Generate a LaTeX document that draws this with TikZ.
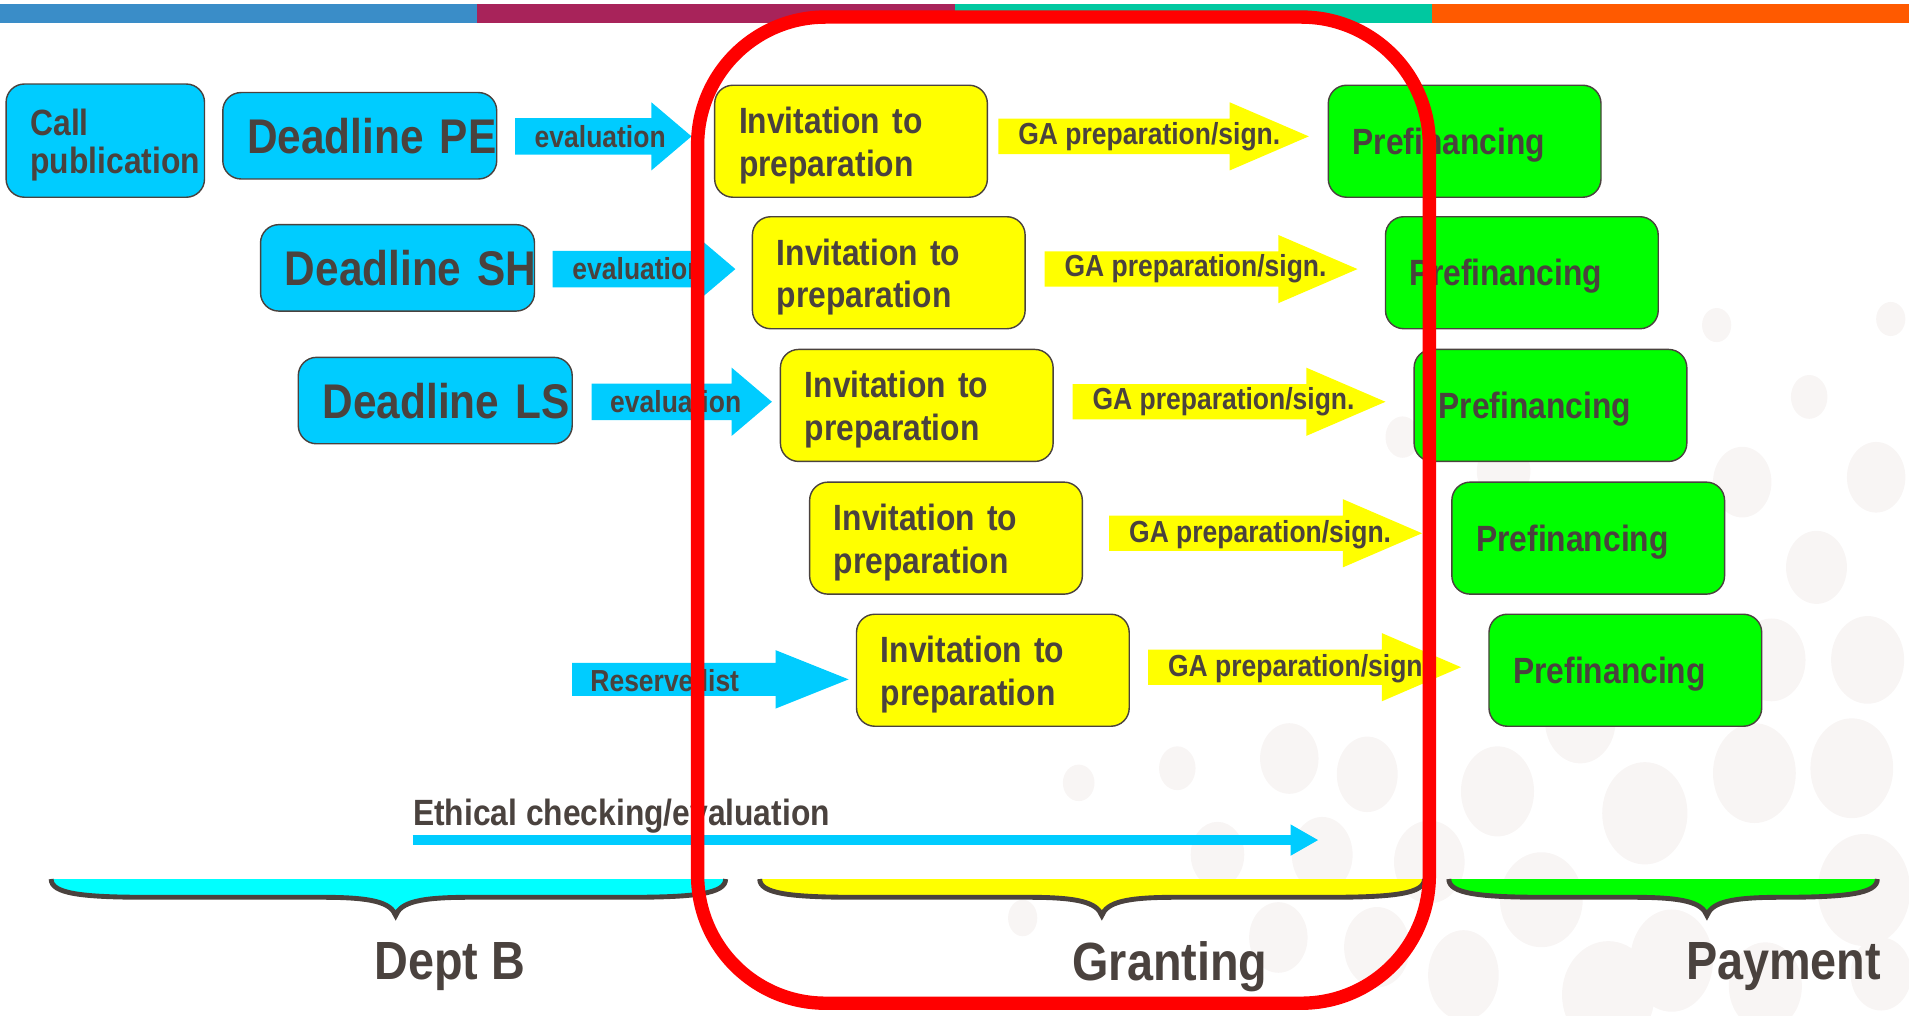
\documentclass[tikz,border=0pt]{standalone}
\usepackage{fontspec}
\setmainfont{Liberation Sans}[FakeStretch=0.87]
\usetikzlibrary{arrows.meta}
\hyphenpenalty=10000
\definecolor{txt}{HTML}{4A423E}
\definecolor{skyb}{HTML}{00CCFF}
\definecolor{aqua}{HTML}{00FFFF}
\definecolor{yel}{HTML}{FFFF00}
\definecolor{grn}{HTML}{00FF00}
\definecolor{dot}{HTML}{F8F5F4}
\definecolor{barA}{HTML}{3A8DC8}
\definecolor{barB}{HTML}{A8235A}
\definecolor{barC}{HTML}{00C8A0}
\definecolor{barD}{HTML}{FF5A00}
\newcommand{\toppad}{\rule{0pt}{17.2pt}}
% fat arrow: colour, tail x, tip x, y, shaft half, head half, head length
\newcommand{\fatarrow}[7]{\fill[#1] (#2,#4-#5) -- (#3-#7,#4-#5) -- (#3-#7,#4-#6) -- (#3,#4)
  -- (#3-#7,#4+#6) -- (#3-#7,#4+#5) -- (#2,#4+#5) -- cycle;}
% brace: colour, left x, tip x, right x
\newcommand{\phasebrace}[4]{%
  \fill[#1] (#2,722) .. controls (#2,734) and (#2+25,737) .. (#2+80,737)
    -- (#3-60,737) .. controls (#3-20,737) and (#3-4,741) .. (#3,752)
    .. controls (#3+4,741) and (#3+20,737) .. (#3+60,737)
    -- (#4-80,737) .. controls (#4-25,737) and (#4,734) .. (#4,722) -- cycle;
  \draw[txt, line width=2.4pt] (#2,722) .. controls (#2,734) and (#2+25,737) .. (#2+80,737)
    -- (#3-60,737) .. controls (#3-20,737) and (#3-4,741) .. (#3,752)
    .. controls (#3+4,741) and (#3+20,737) .. (#3+60,737)
    -- (#4-80,737) .. controls (#4-25,737) and (#4,734) .. (#4,722);}

\begin{document}
\begin{tikzpicture}[x=0.6pt, y=-0.6pt,
  box/.style = {draw=txt, line width=0.7pt, rounded corners=9pt, text=txt, align=left,
    inner xsep=12pt, inner ysep=0pt, font=\fontsize{18}{21}\selectfont\bfseries},
  inv/.style = {box, fill=yel, text width=110.4pt, minimum height=55.2pt},
  pre/.style = {box, fill=grn, text width=110.4pt, minimum height=55.2pt, text depth=0pt},
  dl/.style = {box, fill=skyb, text width=111pt, minimum height=42.6pt, text depth=0pt,
    font=\fontsize{24}{28}\selectfont\bfseries},
  lbl/.style = {text=txt, inner sep=0pt, font=\fontsize{15}{18}\selectfont\bfseries},
  phase/.style = {text=txt, inner sep=0pt, font=\fontsize{26.5}{30}\selectfont\bfseries}]
\useasboundingbox (0,0) rectangle (1568,834);

% background dots
\foreach \cx/\cy/\rx/\ry in {1410/267/12/14, 1553/262/12/14, 1486/326/15/18, 1152/359/14/17,
  1431/396/24/29, 1541/392/24/29, 1235/387/22/25, 1492/466/25/30, 1534/542/30/36,
  1455/542/28/34, 1441/635/34/41, 1521/631/34/41, 1351/668/35/42, 1230/650/30/37,
  1298/592/29/35, 1531/731/38/46, 1123/636/25/31, 1059/623/24/29, 967/631/15/18,
  886/643/13/15, 1086/702/25/31, 1174/708/29/34, 1000/702/22/27, 1266/739/34/39,
  1373/789/34/42, 1202/801/29/37, 1321/817/38/44, 1050/770/24/29, 1131/778/27/33,
  840/754/12/15, 1450/810/30/36, 1545/800/25/30}
  \fill[dot] (\cx,\cy) ellipse [x radius=\rx, y radius=\ry];

% top bar
\fill[barA] (0,3.3) rectangle (392,18.6);
\fill[barB] (392,3.3) rectangle (784,18.6);
\fill[barC] (784,3.3) rectangle (1176,18.6);
\fill[barD] (1176,3.3) rectangle (1568,18.6);

% arrows
\fatarrow{skyb}{423}{568}{112}{15}{28}{33}
\fatarrow{skyb}{454}{604}{221}{15}{28}{33}
\fatarrow{skyb}{486}{634}{330}{15}{28}{33}
\fatarrow{skyb}{470}{697}{558}{13.5}{24}{60}
\fatarrow{yel}{820}{1075}{112}{14.5}{28}{65}
\fatarrow{yel}{858}{1115}{221}{14.5}{28}{65}
\fatarrow{yel}{881}{1138}{330}{14.5}{28}{65}
\fatarrow{yel}{911}{1168}{438}{14.5}{28}{65}
\fatarrow{yel}{943}{1200}{548}{14.5}{28}{65}

\node[lbl] (ev1) at (493,112) {evaluation};
\node[lbl] (ev2) at (524,221) {evaluation};
\node[lbl] (ev3) at (555,330) {evaluation};
\node[lbl] (res) at (546,559) {Reserve list};
\node[lbl] (ga1) at (944,112) {GA preparation/sign.};
\node[lbl] (ga2) at (982,221) {GA preparation/sign.};
\node[lbl] (ga3) at (1005,330) {GA preparation/sign.};
\node[lbl] (ga4) at (1035,439) {GA preparation/sign.};
\node[lbl] (ga5) at (1067,549) {GA preparation/sign.};

% boxes
\node[box, fill=skyb, text width=73.8pt, minimum height=55.8pt,
  font=\fontsize{18}{18.6}\selectfont\bfseries] (call) at (86.5,115.5) {\toppad Call\\\mbox{publication}};
\node[dl] (dlpe) at (295.5,111.5) {Deadline~PE};
\node[dl] (dlsh) at (326.5,220) {Deadline~SH};
\node[dl] (dlls) at (357.5,329) {Deadline~LS};

\node[inv] (inv1) at (699,116) {\toppad Invitation to\\preparation};
\node[inv] (inv2) at (730,224) {\toppad Invitation to\\preparation};
\node[inv] (inv3) at (753,333) {\toppad Invitation to\\preparation};
\node[inv] (inv4) at (777,442) {\toppad Invitation to\\preparation};
\node[inv] (inv5) at (815.5,550.5) {\toppad Invitation to\\preparation};

\node[pre] (pre1) at (1203,116) {Prefinancing};
\node[pre] (pre2) at (1250,224) {Prefinancing};
\node[pre] (pre3) at (1273.5,333) {Prefinancing};
\node[pre] (pre4) at (1304.5,442) {Prefinancing};
\node[pre] (pre5) at (1335,550.5) {Prefinancing};

% ethics
\coordinate (eth0) at (339,690);
\coordinate (eth1) at (1083,690);
\node[lbl, anchor=west, font=\fontsize{18}{21}\selectfont\bfseries] (eth) at (339,670) {Ethical checking/evaluation};
\draw[skyb, line width=4.8pt, -{Triangle[length=13.8pt, width=14.4pt]}] (eth0) -- (eth1);

% phases
\phasebrace{aqua}{42}{325}{596}
\phasebrace{yel}{624}{905}{1170}
\phasebrace{grn}{1190}{1402}{1542}
\node[phase] (deptb) at (369.5,794) {Dept B};
\node[phase] (granting) at (961,794) {Granting};
\node[phase] (payment) at (1465,794) {Payment};

% focus frame
\draw[red, line width=6.6pt, rounded corners=63pt] (573,14) rectangle (1174,824);
\end{tikzpicture}
\end{document}
